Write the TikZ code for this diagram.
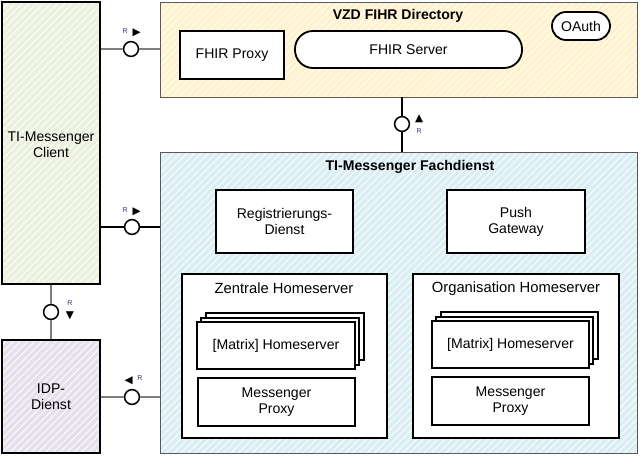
\documentclass[tikz,border=0pt]{standalone}
\usepackage{fontspec}
\setmainfont{Liberation Sans}
\newfontfamily\symb{DejaVu Sans}
\usetikzlibrary{calc}
\usetikzlibrary{patterns.meta}
\definecolor{gruen}{HTML}{EBF1DE}
\definecolor{lila}{HTML}{E6E0EC}
\definecolor{gelb}{HTML}{FFF2CC}
\definecolor{blau}{HTML}{DAEEF3}
\definecolor{rahmen}{HTML}{595959}
\definecolor{linie}{HTML}{7F7F7F}
\newcommand{\dreieck}[1]{{\symb\fontsize{7.5}{7.5}\selectfont\color{black}#1}}

\begin{document}
\begin{tikzpicture}[scale=1,>=stealth,
font=\fontsize{10}{11.5}\selectfont,
streifen/.style={preaction={fill=#1},preaction={pattern={Lines[angle=45,distance=3.6pt,line width=.6pt]},pattern color=white}},
bereich/.style={rectangle,draw=rahmen,line width=.7pt,inner sep=0pt},
kasten/.style={rectangle,draw=black,line width=1.3pt,fill=white,align=center,inner sep=0pt},
rund/.style={kasten,rounded corners=#1},
schnitt/.style={circle,draw=black,line width=1.1pt,fill=white,minimum size=.37cm,inner sep=0pt},
klein/.style={inner sep=0pt,text=black!70!blue!80,font=\fontsize{5}{5}\selectfont},
titel/.style={font=\fontsize{10}{11}\selectfont\bfseries}
]

\useasboundingbox (0,0) rectangle (16.025,-11.375);

% linke Seite
\node[bereich,streifen=gruen,draw=black,line width=1.1pt,minimum width=2.45cm,minimum height=7.05cm,align=center](client) at (1.275,-3.575){\\[-2pt]TI-Messenger\\Client};
\node[bereich,streifen=lila,draw=black,line width=1.1pt,minimum width=2.45cm,minimum height=2.825cm,align=center](idp) at (1.275,-9.9125){IDP-\\Dienst};

% Verzeichnisdienst
\node[bereich,streifen=gelb,minimum width=11.925cm,minimum height=2.375cm](vzd) at (9.9625,-1.2375){};
\node[titel](vzd-titel) at (9.95,-0.4){VZD FIHR Directory};
\node[kasten,minimum width=2.6cm,minimum height=1.2cm](fhir-proxy) at (5.8,-1.375){FHIR Proxy};
\node[rund=.45cm,minimum width=5.675cm,minimum height=.925cm](fhir-server) at (10.2125,-1.2375){FHIR Server};
\node[rund=.35cm,minimum width=1.45cm,minimum height=.7cm](oauth) at (14.525,-0.65){OAuth};

% Fachdienst
\node[bereich,streifen=blau,minimum width=11.925cm,minimum height=7.525cm](fach) at (9.9625,-7.5625){};
\node[titel](fach-titel) at (10.25,-4.175){TI-Messenger Fachdienst};
\node[kasten,minimum width=3.425cm,minimum height=1.575cm](reg) at (7.1125,-5.5375){Registrierungs-\\Dienst};
\node[kasten,minimum width=3.45cm,minimum height=1.575cm](push) at (12.9,-5.5375){Push\\Gateway};

\node[kasten,minimum width=5.125cm,minimum height=4.1cm](zentral) at (7.1125,-8.9){};
\node[font=\fontsize{10.5}{12}\selectfont](zentral-titel) at (7.1,-7.2){Zentrale Homeserver};
\node[kasten,minimum width=3.95cm,minimum height=1.175cm] at (7.12,-8.4175){};
\node[kasten,minimum width=3.95cm,minimum height=1.175cm] at (7.01,-8.5275){};
\node[kasten,minimum width=3.95cm,minimum height=1.175cm](z-matrix) at (6.9,-8.6375){[Matrix] Homeserver};
\node[kasten,minimum width=3.925cm,minimum height=1.2cm](z-proxy) at (6.9125,-10.05){Messenger\\Proxy};

\node[kasten,minimum width=5.15cm,minimum height=4.1cm](org) at (12.9,-8.9){};
\node[font=\fontsize{10.5}{12}\selectfont](org-titel) at (12.9,-7.225){Organisation Homeserver};
\node[kasten,minimum width=3.925cm,minimum height=1.175cm] at (12.9825,-8.3925){};
\node[kasten,minimum width=3.925cm,minimum height=1.175cm] at (12.8725,-8.5025){};
\node[kasten,minimum width=3.925cm,minimum height=1.175cm](o-matrix) at (12.7625,-8.6125){[Matrix] Homeserver};
\node[kasten,minimum width=3.925cm,minimum height=1.2cm](o-proxy) at (12.7625,-10.025){Messenger\\Proxy};

% Schnittstellen
\node[schnitt](s-vzd) at (3.275,-1.225){};
\node[schnitt](s-fach) at (3.3,-5.675){};
\node[schnitt](s-idp) at (3.3,-9.925){};
\node[schnitt](s-client) at (1.275,-7.8){};
\node[schnitt](s-vf) at (10.05,-3.1){};

\begin{scope}[line width=1pt]
\draw[linie] (client.east |- s-vzd)--(s-vzd)--(vzd.west |- s-vzd);
\draw (client.east |- s-fach)--(s-fach)--(fach.west |- s-fach);
\draw[linie] (idp.east |- s-idp)--(s-idp)--(fach.west |- s-idp);
\draw[linie] (client.south)--(s-client)--(idp.north);
\draw (vzd.south -| s-vf)--(s-vf)--(fach.north -| s-vf);
\end{scope}

% Richtungen
\node[klein](r-vzd) at (3.13,-0.78){R};
\node[klein](d-vzd) at (3.42,-0.83){\dreieck{▶}};
\node[klein](r-fach) at (3.13,-5.25){R};
\node[klein](d-fach) at (3.42,-5.3){\dreieck{▶}};
\node[klein](d-idp) at (3.22,-9.52){\dreieck{◀}};
\node[klein](r-idp) at (3.5,-9.45){R};
\node[klein](r-client) at (1.75,-7.58){R};
\node[klein](d-client) at (1.75,-7.9){\dreieck{▼}};
\node[klein](d-vf) at (10.48,-2.97){\dreieck{▲}};
\node[klein](r-vf) at (10.48,-3.28){R};

\end{tikzpicture}
\end{document}
